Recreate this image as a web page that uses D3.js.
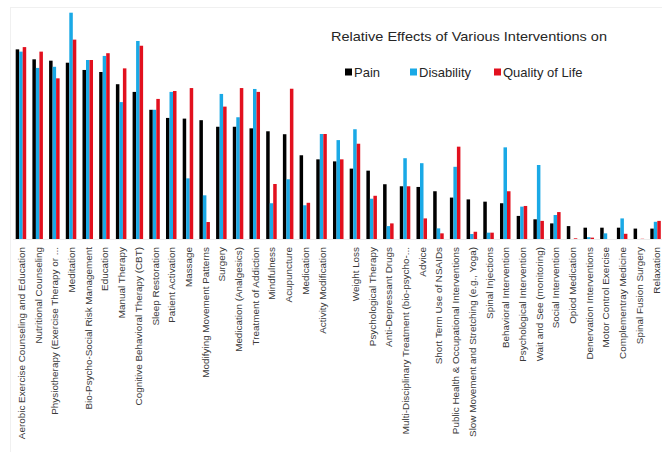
<!DOCTYPE html>
<html>
<head>
<meta charset="utf-8">
<script src="https://cdn.jsdelivr.net/npm/d3@7"></script>
<style>
  html, body { margin: 0; padding: 0; background: #fff; }
  svg { display: block; }
</style>
</head>
<body>
<svg id="chart" width="662" height="452"></svg>
<script>
// Interventions, in the order they are ranked (one unlabelled group sits after Activity Modification)
const categories = [
  "Aerobic Exercise Counseling and Education",
  "Nutritional Counseling",
  "Physiotherapy (Exercise Therapy or ...",
  "Meditation",
  "Bio-Psycho-Social Risk Management",
  "Education",
  "Manual Therapy",
  "Cognitive Behavioral Therapy (CBT)",
  "Sleep Restoration",
  "Patient Activation",
  "Massage",
  "Modifying Movement Patterns",
  "Surgery",
  "Medication (Analgesics)",
  "Treatment of Addiction",
  "Mindfulness",
  "Acupuncture",
  "Medication",
  "Activity Modification",
  "",
  "Weight Loss",
  "Psychological Therapy",
  "Anti-Depressant Drugs",
  "Multi-Disciplinary Treatment (bio-psycho-...",
  "Advice",
  "Short Term Use of NSAIDs",
  "Public Health & Occupational Interventions",
  "Slow Movement and Stretching (e.g., Yoga)",
  "Spinal Injections",
  "Behavioral Intervention",
  "Psychological Intervention",
  "Wait and See (monitoring)",
  "Social Intervention",
  "Opiod Medication",
  "Denervation Interventions",
  "Motor Control Exercise",
  "Complementray Medicine",
  "Spinal Fusion Surgery",
  "Relaxation"
];

const seriesNames = ["Pain", "Disability", "Quality of Life"];

// Relative effect per outcome (largest value = 100)
const pain = [
  83.8, 79.4, 78.8, 77.9, 74.7, 73.8, 68.4, 65.0, 57.1, 53.5,
  53.2, 52.5, 49.6, 49.6, 48.9, 47.6, 46.3, 37.0, 35.2, 34.3,
  31.1, 30.2, 24.2, 23.3, 23.0, 21.1, 18.3, 17.5, 16.5, 15.8,
  10.2, 8.7, 6.9, 5.7, 5.0, 5.0, 5.0, 4.6, 4.6
];
const disability = [
  82.8, 75.6, 76.1, 100, 79.1, 80.9, 60.5, 87.5, 57.1, 65.0,
  26.8, 19.3, 64.1, 53.8, 66.3, 15.8, 26.4, 14.9, 46.4, 43.7,
  48.5, 17.8, 5.7, 35.7, 33.5, 4.7, 31.9, 2.2, 2.8, 40.5,
  14.3, 32.7, 10.6, 0, 0.8, 2.5, 9.1, 0, 7.6
];
const qualityOfLife = [
  84.8, 82.8, 71.0, 88.1, 79.1, 82.1, 75.4, 85.4, 61.9, 65.4,
  66.7, 7.5, 58.5, 66.7, 65.0, 24.3, 66.4, 16.0, 46.4, 35.2,
  42.1, 19.1, 6.9, 23.3, 9.1, 2.5, 40.8, 3.2, 2.8, 21.1,
  14.6, 8.0, 11.9, 0.3, 0.6, 0, 2.3, 0.1, 8.0
];

const seriesValues = [pain, disability, qualityOfLife];
const colors = ["#000000", "#1AA9E6", "#E2101E"];

const svg = d3.select("#chart");
const W = 662, H = 452;
const baseY = 239, topY = 12.7;

// faint chart-area frame
svg.append("rect")
  .attr("x", 10.5).attr("y", 7.5)
  .attr("width", W).attr("height", H)
  .attr("fill", "none")
  .attr("stroke", "#f0f0f0");

const idx = d3.range(categories.length);

const x0 = d3.scaleBand()
  .domain(idx)
  .range([12.6, 12.6 + 16.7 * categories.length])
  .paddingInner(0.37)
  .paddingOuter(0.185);

const x1 = d3.scaleBand()
  .domain(d3.range(seriesNames.length))
  .range([0, x0.bandwidth()]);

const y = d3.scaleLinear()
  .domain([0, 100])
  .range([baseY, topY]);

// grouped bars
const groups = svg.append("g")
  .selectAll("g")
  .data(idx)
  .join("g")
  .attr("transform", i => `translate(${x0(i)},0)`);

groups.selectAll("rect")
  .data(i => seriesValues.map((vals, s) => ({ s, v: vals[i] })))
  .join("rect")
  .attr("x", d => x1(d.s))
  .attr("width", x1.bandwidth())
  .attr("y", d => y(d.v))
  .attr("height", d => y(0) - y(d.v))
  .attr("fill", d => colors[d.s]);

// category axis (rotated labels)
const xAxis = d3.axisBottom(x0)
  .tickSize(0)
  .tickPadding(0)
  .tickFormat(i => categories[i]);

const axisG = svg.append("g")
  .attr("transform", `translate(0,${baseY})`)
  .call(xAxis);

axisG.select(".domain").attr("stroke", "#ececec");

axisG.selectAll("text")
  .attr("transform", "rotate(-90)")
  .attr("x", -8)
  .attr("y", 0.5)
  .attr("dy", "0.35em")
  .attr("text-anchor", "end")
  .attr("fill", "#3a3a3a")
  .style("font-family", "'Liberation Sans', Arial, sans-serif")
  .style("font-size", "9.9px");

// title
svg.append("text")
  .attr("x", 331)
  .attr("y", 41)
  .attr("textLength", 276)
  .attr("lengthAdjust", "spacingAndGlyphs")
  .attr("fill", "#262626")
  .style("font-family", "'Liberation Sans', Arial, sans-serif")
  .style("font-size", "13px")
  .text("Relative Effects of Various Interventions on");

// legend
const legendX = [345, 410, 494];
const legend = svg.append("g").attr("transform", "translate(0,72)");
const items = legend.selectAll("g")
  .data(seriesNames)
  .join("g")
  .attr("transform", (d, i) => `translate(${legendX[i]},0)`);

items.append("rect")
  .attr("x", 0).attr("y", -3.5)
  .attr("width", 7).attr("height", 7)
  .attr("fill", (d, i) => colors[i]);

items.append("text")
  .attr("x", 9)
  .attr("y", 0)
  .attr("dy", "0.36em")
  .attr("fill", "#262626")
  .style("font-family", "'Liberation Sans', Arial, sans-serif")
  .style("font-size", "13px")
  .text(d => d);
</script>
</body>
</html>
